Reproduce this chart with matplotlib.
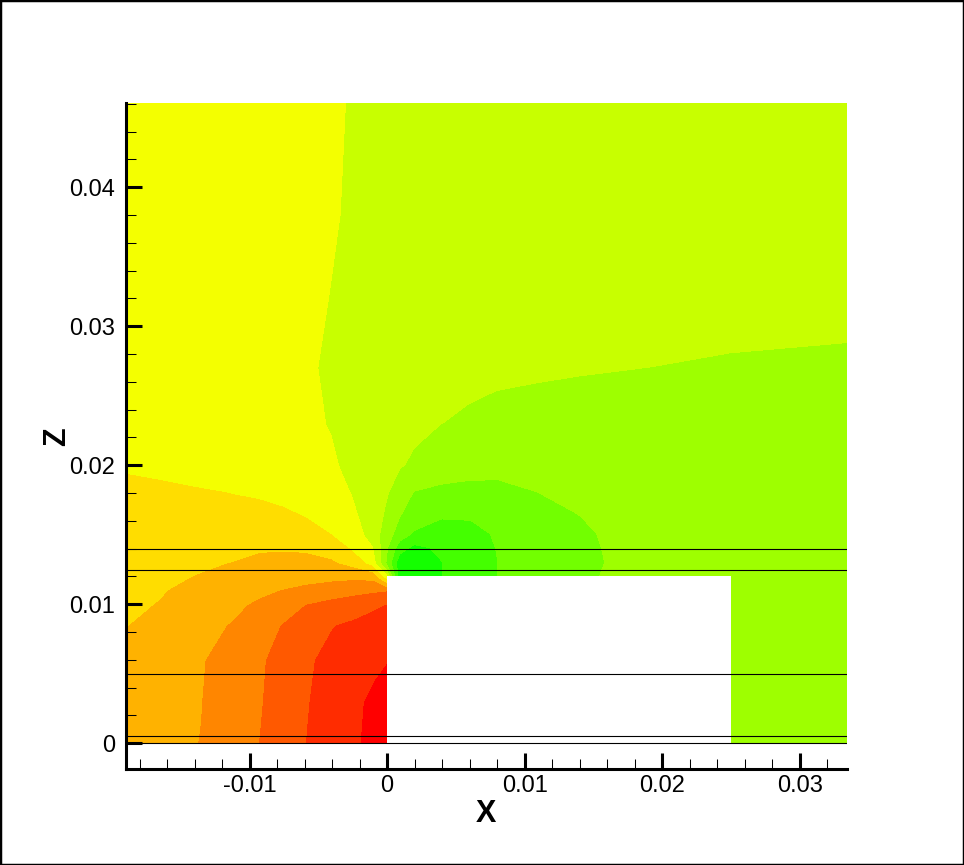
import matplotlib
matplotlib.use("Agg")
import matplotlib.pyplot as plt
import numpy as np
from matplotlib.patches import Rectangle
from matplotlib.ticker import AutoMinorLocator

plt.rcParams["font.family"] = ["Liberation Sans", "DejaVu Sans"]

# grid nodes (x, z) and contour level index
x_nodes = [-0.019, -0.0165, -0.0136, -0.0115, -0.0093, -0.0075, -0.0059, -0.004,
           -0.0025, -0.001, 0.0, 0.001, 0.002, 0.004, 0.006, 0.008, 0.011, 0.014,
           0.017, 0.025, 0.0335]
z_nodes = [0.0, 0.003, 0.006, 0.0085, 0.010, 0.011, 0.012, 0.013, 0.014, 0.015,
           0.0165, 0.018, 0.020, 0.023, 0.027, 0.032, 0.038, 0.0461]

level_grid = [
    [4.00, 3.77, 3.48, 3.01, 2.48, 1.97, 1.48, 1.01, 0.63, 0.25, 0.00, 8, 8, 8, 8, 8, 8, 8, 8, 8.00, 8.00],
    [4.15, 3.86, 3.52, 3.06, 2.56, 2.03, 1.55, 1.06, 0.68, 0.32, 0.10, 8, 8, 8, 8, 8, 8, 8, 8, 8.00, 8.00],
    [4.30, 3.96, 3.57, 3.13, 2.62, 2.11, 1.62, 1.23, 0.95, 0.68, 0.52, 8, 8, 8, 8, 8, 8, 8, 8, 8.00, 8.00],
    [4.52, 4.16, 3.77, 3.47, 2.89, 2.42, 2.00, 1.52, 1.35, 1.21, 1.11, 8, 8, 8, 8, 8, 8, 8, 8, 8.00, 8.00],
    [4.64, 4.46, 4.04, 3.73, 3.35, 2.88, 2.48, 2.14, 1.88, 1.61, 1.47, 8, 8, 8, 8, 8, 8, 8, 8, 8.00, 8.00],
    [4.73, 4.55, 4.22, 3.95, 3.67, 3.44, 3.24, 3.00, 2.81, 2.63, 2.52, 8, 8, 8, 8, 8, 8, 8, 8, 8.00, 8.00],
    [4.82, 4.66, 4.45, 4.25, 4.05, 3.90, 3.80, 3.72, 3.68, 3.80, 6.00, 11.20, 11.00, 10.48, 10.00, 9.48, 9.10, 8.90, 8.00, 8.00, 8.00],
    [4.90, 4.77, 4.62, 4.49, 4.35, 4.25, 4.20, 4.35, 4.80, 5.90, 8.50, 11.10, 11.00, 10.48, 10.00, 9.49, 9.15, 8.90, 8.20, 8.00, 7.95],
    [5.00, 4.95, 4.90, 4.82, 4.55, 4.55, 4.60, 4.90, 5.55, 6.40, 8.30, 10.00, 10.70, 10.30, 9.95, 9.45, 9.10, 8.85, 8.15, 7.95, 7.90],
    [5.10, 5.07, 5.03, 5.00, 4.95, 4.95, 5.10, 5.48, 5.90, 6.90, 8.00, 8.95, 9.60, 10.20, 9.85, 9.35, 9.00, 8.75, 8.10, 7.90, 7.85],
    [5.23, 5.20, 5.18, 5.15, 5.20, 5.35, 5.55, 5.85, 6.30, 7.00, 7.60, 8.40, 8.90, 9.20, 9.30, 9.15, 8.85, 8.45, 8.00, 7.85, 7.80],
    [5.37, 5.40, 5.45, 5.49, 5.60, 5.75, 5.90, 6.15, 6.52, 7.05, 7.40, 7.90, 8.52, 8.75, 8.85, 8.85, 8.48, 8.20, 7.90, 7.80, 7.75],
    [5.55, 5.60, 5.68, 5.75, 5.85, 5.95, 6.10, 6.35, 6.75, 7.05, 7.25, 7.42, 7.62, 7.85, 8.00, 8.05, 8.00, 7.90, 7.85, 7.75, 7.70],
    [5.80, 5.85, 5.90, 5.95, 6.05, 6.15, 6.30, 6.55, 6.80, 7.00, 7.10, 7.20, 7.30, 7.49, 7.60, 7.70, 7.75, 7.75, 7.75, 7.70, 7.65],
    [6.00, 6.05, 6.10, 6.15, 6.20, 6.30, 6.40, 6.60, 6.80, 6.95, 7.00, 7.05, 7.10, 7.20, 7.30, 7.35, 7.40, 7.45, 7.48, 7.55, 7.58],
    [6.00, 6.02, 6.05, 6.08, 6.12, 6.20, 6.30, 6.52, 6.75, 6.90, 6.95, 7.00, 7.00, 7.05, 7.10, 7.10, 7.15, 7.20, 7.25, 7.30, 7.35],
    [6.00, 6.00, 6.02, 6.05, 6.10, 6.15, 6.25, 6.42, 6.60, 6.75, 6.80, 6.85, 6.90, 6.95, 7.00, 7.00, 7.05, 7.10, 7.10, 7.15, 7.20],
    [6.00, 6.00, 6.00, 6.02, 6.05, 6.10, 6.20, 6.38, 6.55, 6.70, 6.75, 6.80, 6.85, 6.90, 6.95, 6.95, 7.00, 7.00, 7.05, 7.10, 7.10],
]

level_colors = ["#ff0000", "#ff2c00", "#ff5900", "#ff8600", "#ffb200", "#ffdd00",
                "#f4ff00", "#c8ff00", "#9eff00", "#72ff00", "#44ff00", "#14ff00"]

body_x = [0.0, 0.025]
body_z = [0.0, 0.012]
line_z = [0.0, 0.0005, 0.005, 0.0125, 0.014]

x_ticks = [-0.01, 0.0, 0.01, 0.02, 0.03]
x_tick_labels = ["-0.01", "0", "0.01", "0.02", "0.03"]
z_ticks = [0.0, 0.01, 0.02, 0.03, 0.04]
z_tick_labels = ["0", "0.01", "0.02", "0.03", "0.04"]

fig = plt.figure(figsize=(9.64, 8.65), dpi=100)
ax = fig.add_axes([126 / 964, 1 - 769 / 865, 721 / 964, 666 / 865])

cs = ax.contourf(x_nodes, z_nodes, level_grid,
                 levels=np.arange(-0.5, 12.0, 1.0), colors=level_colors, zorder=1)
cs.set_edgecolor("face")
cs.set_linewidth(0.3)

ax.add_patch(Rectangle((body_x[0], body_z[0]), body_x[1] - body_x[0],
                       body_z[1] - body_z[0], facecolor="white",
                       edgecolor="none", zorder=2))
for z in line_z:
    ax.axhline(z, color="black", linewidth=0.8, zorder=3)

ax.set_xlim(-0.0190, 0.03345)
ax.set_ylim(-0.00185, 0.04606)
ax.set_xticks(x_ticks, labels=x_tick_labels)
ax.set_yticks(z_ticks, labels=z_tick_labels)
ax.xaxis.set_minor_locator(AutoMinorLocator(5))
ax.yaxis.set_minor_locator(AutoMinorLocator(5))
ax.tick_params(which="major", direction="in", length=11.5, width=2.2,
               labelsize=17, color="black")
ax.tick_params(which="minor", direction="in", length=7.2, width=0.75)
ax.tick_params(axis="x", which="major", pad=4)
ax.tick_params(axis="y", which="major", pad=8)

for side in ["top", "right"]:
    ax.spines[side].set_visible(False)
for side in ["left", "bottom"]:
    ax.spines[side].set_linewidth(2.2)

fig.text(485.5 / 964, 1 - 814 / 865, "X", fontsize=22, fontweight="bold",
         ha="center", va="center")
fig.text(57.5 / 964, 1 - 436.5 / 865, "Z", fontsize=22, fontweight="bold",
         rotation=90, ha="center", va="center")

fig.add_artist(Rectangle((0, 0), 1, 1, transform=fig.transFigure, fill=False,
                         edgecolor="black", linewidth=2.5))

fig.savefig("out.png", dpi=100)
